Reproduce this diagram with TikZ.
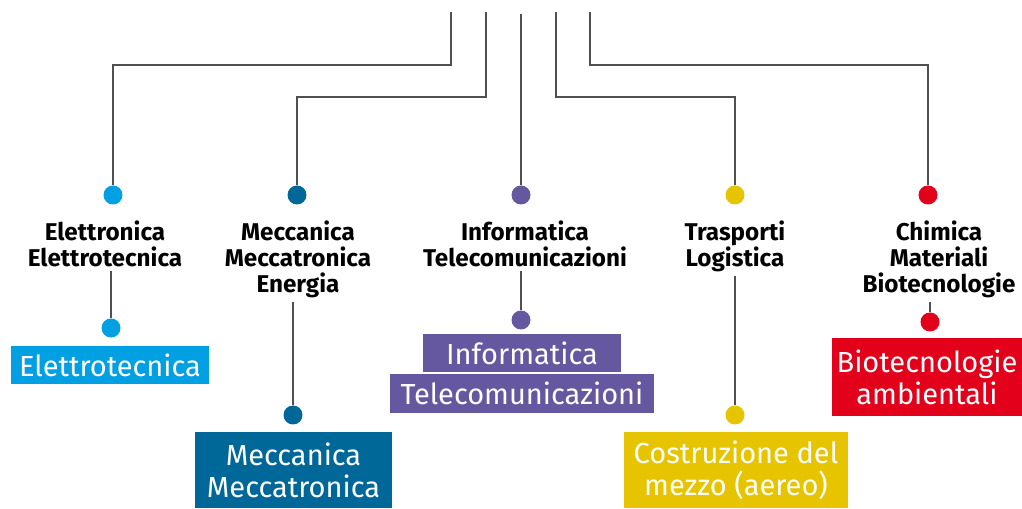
\documentclass[tikz,border=0pt]{standalone}
\usepackage{fontspec}
\setmainfont{Fira Sans}
\usepackage{tikz}
\usetikzlibrary{positioning}

\definecolor{cyanc}{RGB}{0,160,227}
\definecolor{bluec}{RGB}{0,103,153}
\definecolor{purplec}{RGB}{102,88,160}
\definecolor{yellowc}{RGB}{230,196,0}
\definecolor{redc}{RGB}{226,0,26}
\definecolor{linec}{RGB}{80,80,80}

\begin{document}
\begin{tikzpicture}[x=0.02cm,y=-0.02cm,line width=0.6pt]
\tikzstyle{dot}=[circle,inner sep=0pt,minimum size=0.38cm];
\tikzstyle{lab}=[anchor=north,align=center,inner sep=2pt,font=\bfseries\fontsize{13.8}{14.8}\selectfont];
\tikzstyle{box}=[align=center,text=white,inner sep=0pt,font=\fontsize{16.5}{18.2}\selectfont];
\tikzstyle{wire}=[draw=linec];

\useasboundingbox (0,0) rectangle (1022,509);

% top stubs
\coordinate (t1) at (451,12);
\coordinate (t2) at (486,12);
\coordinate (t3) at (521,14);
\coordinate (t4) at (556,12);
\coordinate (t5) at (590,12);
\coordinate (k1) at (113,65);
\coordinate (k2) at (297,97);
\coordinate (k4) at (735,97);
\coordinate (k5) at (928,65);

% first dots
\node [dot,fill=cyanc] (d1) at (113,195) {};
\node [dot,fill=bluec] (d2) at (297,195) {};
\node [dot,fill=purplec] (d3) at (521,195) {};
\node [dot,fill=yellowc] (d4) at (735,195) {};
\node [dot,fill=redc] (d5) at (928,195) {};

% labels
\node [lab] (l1) at (105,217) {Elettronica\\Elettrotecnica};
\node [lab] (l2) at (298,217) {Meccanica\\Meccatronica\\Energia};
\node [lab] (l3) at (525,217) {Informatica\\Telecomunicazioni};
\node [lab] (l4) at (735,217) {Trasporti\\Logistica};
\node [lab] (l5) at (939,217) {Chimica\\Materiali\\Biotecnologie};

% second dots
\node [dot,fill=cyanc] (e1) at (111,328) {};
\node [dot,fill=bluec] (e2) at (293,415) {};
\node [dot,fill=purplec] (e3) at (521,320) {};
\node [dot,fill=yellowc] (e4) at (735,415) {};
\node [dot,fill=redc] (e5) at (930,322) {};

% boxes
\node [box,fill=cyanc,minimum width=3.96cm,minimum height=0.76cm] (b1) at (110,365) {Elettrotecnica};
\node [box,fill=bluec,minimum width=3.94cm,minimum height=1.52cm] (b2) at (293.5,470) {Meccanica\\Meccatronica};
\node [box,fill=purplec,minimum width=3.96cm,minimum height=0.76cm] (b3) at (522,353) {Informatica};
\node [box,fill=purplec,minimum width=5.28cm,minimum height=0.78cm] (b4) at (522,393.5) {Telecomunicazioni};
\node [box,fill=yellowc,minimum width=4.48cm,minimum height=1.52cm] (b5) at (736,470) {Costruzione del\\mezzo (aereo)};
\node [box,fill=redc,minimum width=3.8cm,minimum height=1.56cm] (b6) at (927,377) {Biotecnologie\\ambientali};

% connectors
\draw [wire] (t1) |- (k1) -- (d1);
\draw [wire] (t2) |- (k2) -- (d2);
\draw [wire] (t3) -- (d3);
\draw [wire] (t4) |- (k4) -- (d4);
\draw [wire] (t5) |- (k5) -- (d5);
\draw [wire] (e1 |- l1.south) -- (e1);
\draw [wire] (e2 |- l2.south) -- (e2);
\draw [wire] (e3 |- l3.south) -- (e3);
\draw [wire] (e4 |- l4.south) -- (e4);
\draw [wire] (e5 |- l5.south) -- (e5);
\end{tikzpicture}
\end{document}
